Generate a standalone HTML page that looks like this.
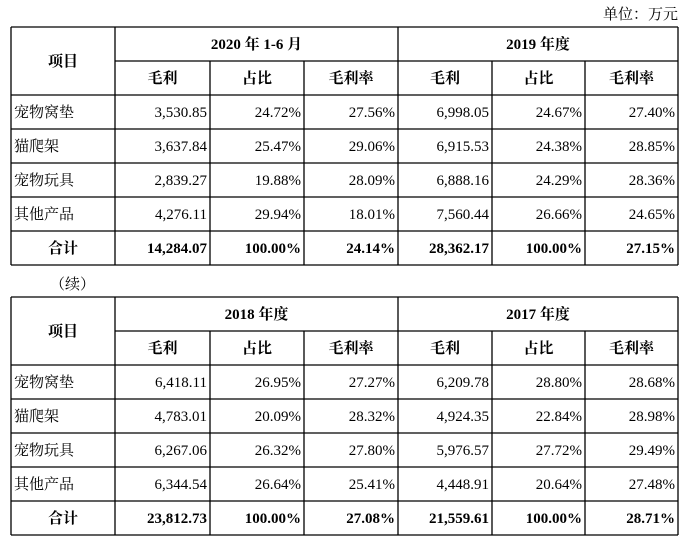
<!DOCTYPE html>
<html><head><meta charset="utf-8"><style>
body{margin:0;background:#fff;}
svg{display:block;font-family:"Liberation Serif","Noto Serif CJK SC",serif;font-size:15px;fill:#000}
.b{font-weight:bold}
</style></head><body>
<svg width="688" height="542" viewBox="0 0 688 542">
<text x="678" y="19" text-anchor="end">单位：万元</text>
<text x="50" y="289">（续）</text>
<g id="t1"></g>
<g id="t2"></g>
</svg>
<script>
const cols=[11,115,210,304,398,492,585,678];
const items=["宠物窝垫","猫爬架","宠物玩具","其他产品","合计"];
const t1Periods=["2020 年 1-6 月","2019 年度"];
const t1Data=[["3,530.85","24.72%","27.56%","6,998.05","24.67%","27.40%"],["3,637.84","25.47%","29.06%","6,915.53","24.38%","28.85%"],["2,839.27","19.88%","28.09%","6,888.16","24.29%","28.36%"],["4,276.11","29.94%","18.01%","7,560.44","26.66%","24.65%"],["14,284.07","100.00%","24.14%","28,362.17","100.00%","27.15%"]];
const t2Periods=["2018 年度","2017 年度"];
const t2Data=[["6,418.11","26.95%","27.27%","6,209.78","28.80%","28.68%"],["4,783.01","20.09%","28.32%","4,924.35","22.84%","28.98%"],["6,267.06","26.32%","27.80%","5,976.57","27.72%","29.49%"],["6,344.54","26.64%","25.41%","4,448.91","20.64%","27.48%"],["23,812.73","100.00%","27.08%","21,559.61","100.00%","28.71%"]];
const subs=["毛利","占比","毛利率"];
const NS="http://www.w3.org/2000/svg";
function mk(g,tag,a){const e=document.createElementNS(NS,tag);for(const k in a)e.setAttribute(k,a[k]);g.appendChild(e);return e;}
function line(g,x1,y1,x2,y2){const l=mk(g,'line',{x1,y1,x2,y2,stroke:'#000','stroke-width':1.3});

}
function txt(g,x,y,s,anchor,bold,name){const t=mk(g,'text',{x,y,'text-anchor':anchor});if(bold)t.setAttribute('class','b');t.textContent=s;

}
function table(g,top,periods,data){
 const rh=34,rows=[top];for(let i=1;i<=7;i++)rows.push(top+rh*i);
 const bottom=rows[7];
 // horizontal lines
 line(g,cols[0],rows[0],cols[7],rows[0]);
 line(g,cols[1],rows[1],cols[7],rows[1]);
 for(let i=2;i<=7;i++)line(g,cols[0],rows[i],cols[7],rows[i]);
 // vertical
 [0,1,4,7].forEach(c=>line(g,cols[c],rows[0],cols[c],bottom));
 [2,3,5,6].forEach(c=>line(g,cols[c],rows[1],cols[c],bottom));
 txt(g,(cols[0]+cols[1])/2,rows[1]+5,"项目","middle",true,"header-item");
 periods.forEach((p,i)=>txt(g,(cols[1+3*i]+cols[4+3*i])/2,rows[0]+22,p,"middle",true,"period-header"));
 for(let c=1;c<7;c++)txt(g,(cols[c]+cols[c+1])/2,rows[1]+22,subs[(c-1)%3],"middle",true,"column-header");
 data.forEach((r,ri)=>{
  const y=rows[2+ri]+22,tot=ri===4;
  if(tot)txt(g,(cols[0]+cols[1])/2,y,items[ri],"middle",true,"row-label");
  else txt(g,14,y,items[ri],"start",false,"row-label");
  r.forEach((v,ci)=>txt(g,cols[ci+2]-3,y,v,"end",tot,"cell-value"));
 });
}
table(document.getElementById('t1'),27,t1Periods,t1Data);
table(document.getElementById('t2'),297,t2Periods,t2Data);
</script>
</body></html>
